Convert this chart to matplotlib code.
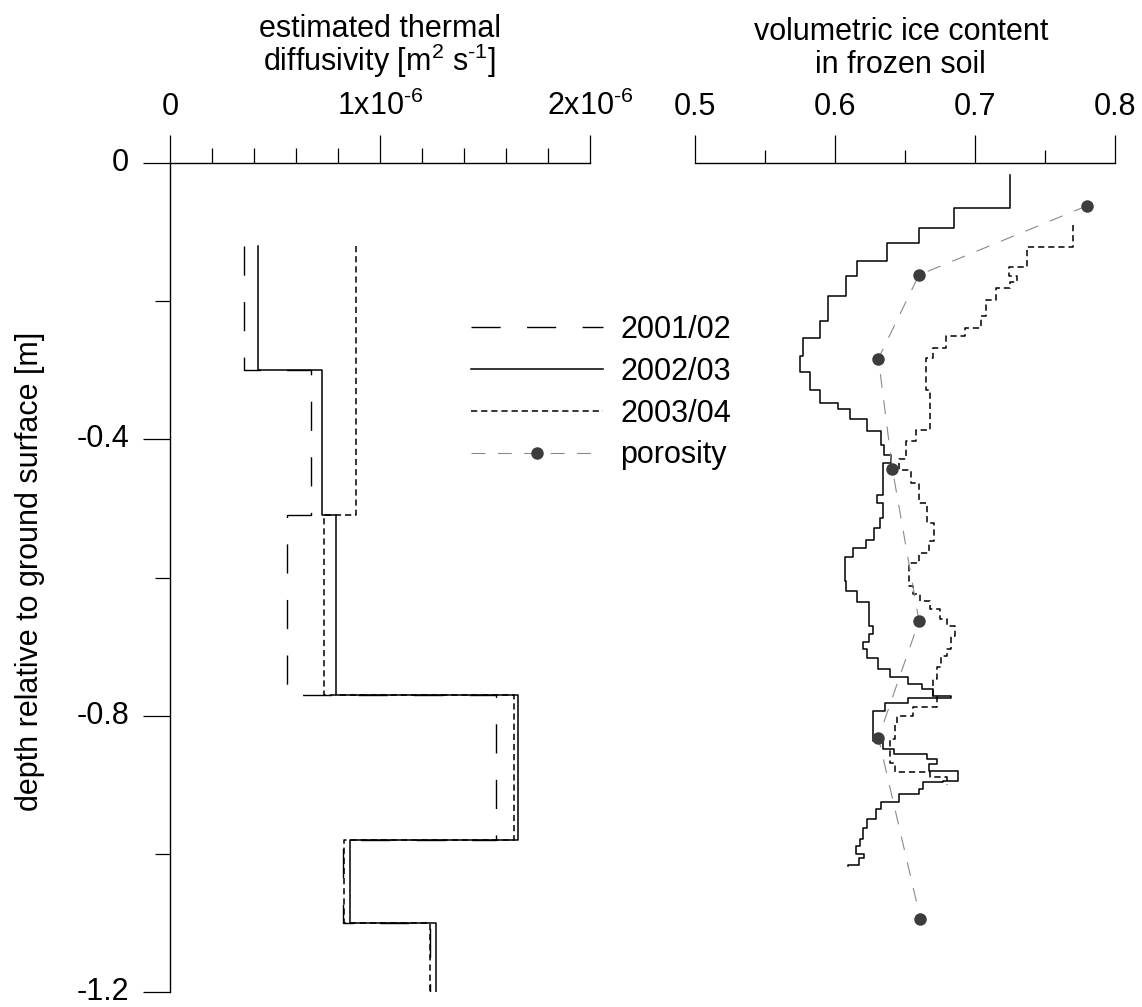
import numpy as np
import matplotlib
matplotlib.use('Agg')
import matplotlib.pyplot as plt
from matplotlib.ticker import MultipleLocator

plt.rcParams['font.family'] = ['Liberation Sans', 'DejaVu Sans']
plt.rcParams['mathtext.fontset'] = 'custom'
plt.rcParams['mathtext.rm'] = 'Liberation Sans'
plt.rcParams['mathtext.it'] = 'Liberation Sans:italic'
plt.rcParams['mathtext.default'] = 'regular'
plt.rcParams['lines.scale_dashes'] = False
plt.rcParams['font.size'] = 22

# layer boundaries of the diffusivity profile [m]
layer_depth = [-0.12, -0.30, -0.51, -0.77, -0.98, -1.10, -1.20]
# thermal diffusivity per layer [1e-6 m2/s]
diff_0102 = [0.35, 0.67, 0.555, 1.55, 0.825, 1.24]
diff_0203 = [0.42, 0.725, 0.79, 1.655, 0.855, 1.265]
diff_0304 = [0.885, 0.885, 0.735, 1.64, 0.83, 1.24]

# ice content 2002/03: depth boundaries and value in each interval
ice_0203_depth = [-0.018, -0.065, -0.094, -0.116, -0.142, -0.163, -0.192, -0.228,
                  -0.254, -0.280, -0.303, -0.328, -0.347, -0.356, -0.370, -0.388,
                  -0.408, -0.422, -0.434, -0.480, -0.492, -0.514, -0.528, -0.545,
                  -0.557, -0.570, -0.605, -0.620, -0.636, -0.670, -0.682, -0.694,
                  -0.704, -0.716, -0.732, -0.744, -0.754, -0.761, -0.772, -0.774,
                  -0.781, -0.793, -0.836, -0.848, -0.855, -0.863, -0.870, -0.880,
                  -0.894, -0.896, -0.906, -0.913, -0.925, -0.935, -0.949, -0.962,
                  -0.978, -0.988, -1.000, -1.006, -1.016, -1.017]
ice_0203 = [0.725, 0.685, 0.660, 0.637, 0.616, 0.608, 0.595, 0.589,
            0.577, 0.575, 0.582, 0.589, 0.602, 0.611, 0.623, 0.633,
            0.635, 0.640, 0.634, 0.630, 0.634, 0.632, 0.628, 0.622,
            0.613, 0.607, 0.608, 0.616, 0.624, 0.627, 0.624, 0.620,
            0.623, 0.631, 0.639, 0.652, 0.662, 0.670, 0.683, 0.652,
            0.636, 0.627, 0.634, 0.642, 0.666, 0.673, 0.667, 0.688,
            0.677, 0.663, 0.660, 0.646, 0.633, 0.629, 0.623, 0.620,
            0.618, 0.615, 0.621, 0.617, 0.609]

# ice content 2003/04
ice_0304_depth = [-0.090, -0.122, -0.150, -0.164, -0.172, -0.181, -0.199, -0.222,
                  -0.239, -0.250, -0.268, -0.282, -0.328, -0.386, -0.403, -0.429,
                  -0.444, -0.463, -0.492, -0.521, -0.547, -0.564, -0.579, -0.612,
                  -0.624, -0.634, -0.646, -0.660, -0.670, -0.685, -0.704, -0.713,
                  -0.730, -0.747, -0.771, -0.788, -0.800, -0.812, -0.834, -0.868,
                  -0.882, -0.889, -0.900]
ice_0304 = [0.770, 0.737, 0.724, 0.730, 0.725, 0.715, 0.708,
            0.704, 0.693, 0.679, 0.670, 0.665, 0.668, 0.658, 0.651,
            0.646, 0.654, 0.660, 0.666, 0.671, 0.667, 0.660, 0.653,
            0.656, 0.661, 0.668, 0.675, 0.680, 0.686, 0.683, 0.680,
            0.676, 0.673, 0.670, 0.673, 0.656, 0.644, 0.643, 0.639,
            0.643, 0.668, 0.680]

# porosity samples
poro_depth = [-0.062, -0.162, -0.283, -0.443, -0.663, -0.832, -1.094]
porosity = [0.780, 0.660, 0.631, 0.641, 0.660, 0.631, 0.661]


def step_profile(edges, values):
    # vertical segment for each interval, joined by horizontal steps
    edges = np.asarray(edges)
    y = np.column_stack([edges[:-1], edges[1:]]).ravel()
    x = np.repeat(np.asarray(values), 2)
    return x, y


style_0102 = dict(color='k', lw=1.0, dashes=(21, 19))
style_0203 = dict(color='k', lw=1.1)
style_0304 = dict(color='k', lw=1.1, dashes=(4.5, 2.8))

W, H = 1142, 1007
fig = plt.figure(figsize=(W / 100, H / 100), dpi=100)
ax_pos_y = 1 - 992 / H
ax_h = 829 / H
ax1 = fig.add_axes([170 / W, ax_pos_y, 420 / W, ax_h])
ax2 = fig.add_axes([695 / W, ax_pos_y, 420 / W, ax_h])

# diffusivity panel
l1, = ax1.plot(*step_profile(layer_depth, diff_0102), label='2001/02', **style_0102)
l2, = ax1.plot(*step_profile(layer_depth, diff_0203), label='2002/03', **style_0203)
l3, = ax1.plot(*step_profile(layer_depth, diff_0304), label='2003/04', **style_0304)

ax1.set_xlim(0, 2)
ax1.set_ylim(-1.2, 0)
ax1.set_xticks([0, 1, 2])
ax1.set_xticklabels(['0', r'1x10$^{\text{-}6}$', r'2x10$^{\text{-}6}$'])
ax1.xaxis.set_minor_locator(MultipleLocator(0.2))
ax1.set_yticks([0, -0.4, -0.8, -1.2])
for lbl in ax1.set_yticklabels(['0', '-0.4', '-0.8', '-1.2']):
    lbl.set_va('center')
ax1.yaxis.set_minor_locator(MultipleLocator(0.2))
ax1.xaxis.tick_top()
for s in ['bottom', 'right']:
    ax1.spines[s].set_visible(False)
ax1.tick_params(axis='x', which='major', length=20, width=0.9, pad=9.5)
ax1.tick_params(axis='x', which='minor', length=10.5, width=0.9)
ax1.tick_params(axis='y', which='major', length=19.5, width=0.9, pad=10)
ax1.tick_params(axis='y', which='minor', length=10.5, width=0.9)
ax1.set_ylabel('depth relative to ground surface [m]')
ax1.yaxis.set_label_coords(-0.298, 0.507)
ax1.xaxis.set_label_position('top')
ax1.set_xlabel('estimated thermal\ndiffusivity [m$^{2}$ s$^{\\text{-}1}$]', linespacing=0.92)
ax1.xaxis.label.set_va('bottom')
ax1.xaxis.set_label_coords(0.5, 1.10)

# ice content panel
ax2.plot(*step_profile(ice_0203_depth, ice_0203), **style_0203)
ax2.plot(*step_profile(ice_0304_depth, ice_0304), **style_0304)
l4, = ax2.plot(porosity, poro_depth, color='#8a8a8a', lw=0.8, dashes=(10, 9),
               marker='o', ms=9, mfc='#3c3c3c', mec='#3c3c3c', mew=0,
               label='porosity', zorder=3)

ax2.set_xlim(0.5, 0.8)
ax2.set_ylim(-1.2, 0)
ax2.set_xticks([0.5, 0.6, 0.7, 0.8])
ax2.set_xticklabels(['0.5', '0.6', '0.7', '0.8'])
ax2.xaxis.set_minor_locator(MultipleLocator(0.05))
ax2.xaxis.tick_top()
for s in ['bottom', 'right', 'left']:
    ax2.spines[s].set_visible(False)
ax2.tick_params(axis='x', which='major', length=20, width=0.9, pad=9.5)
ax2.tick_params(axis='x', which='minor', length=9.5, width=0.9)
ax2.tick_params(axis='y', which='both', left=False, labelleft=False)
ax2.xaxis.set_label_position('top')
ax2.set_xlabel('volumetric ice content\nin frozen soil', linespacing=1.14)
ax2.xaxis.label.set_va('bottom')
ax2.xaxis.set_label_coords(0.49, 1.10)

for ax in (ax1, ax2):
    for s in ax.spines.values():
        s.set_linewidth(1.0)

fig.legend(handles=[l1, l2, l3, l4], loc='upper left',
           bbox_to_anchor=(471 / W, 1 - 315 / H), bbox_transform=fig.transFigure,
           frameon=False, borderpad=0, borderaxespad=0, handlelength=4.33,
           handletextpad=0.56, labelspacing=0.385, numpoints=1)

fig.savefig('out.png', dpi=100)
